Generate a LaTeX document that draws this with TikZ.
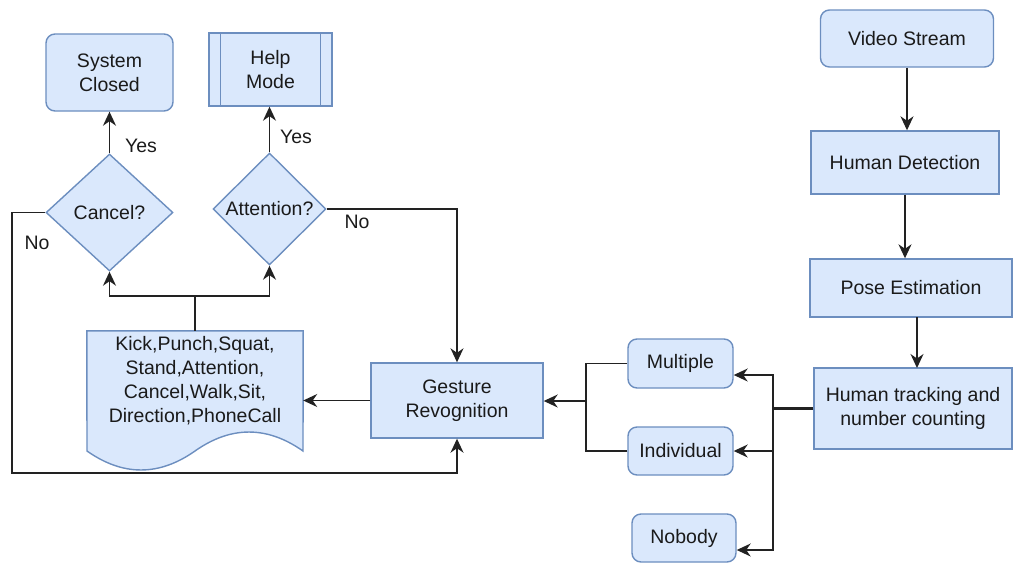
\documentclass[tikz,border=0pt]{standalone}
\usepackage{fontspec}
\setmainfont{Liberation Sans}
\usetikzlibrary{shapes.geometric,arrows.meta}
\definecolor{bfill}{HTML}{DAE8FC}
\definecolor{bline}{HTML}{6C8EBF}
\definecolor{cline}{HTML}{222222}
\definecolor{tcol}{HTML}{1A1A1A}
\tikzset{
  txt/.style={font=\fontsize{19.5}{24}\selectfont, text=tcol, align=center},
  box/.style={txt, draw=bline, fill=bfill, line width=1.4pt, inner sep=0pt},
  rbox/.style={box, rounded corners=9pt},
  dia/.style={box, diamond, aspect=1},
  conn/.style={draw=cline, line width=1.5pt, -{Stealth[length=14pt,width=13pt,inset=4.5pt]}},
  plain/.style={draw=cline, line width=1.5pt},
  lbl/.style={txt}
}
\begin{document}
\begin{tikzpicture}[x=1pt,y=-1pt]
\useasboundingbox (0,0) rectangle (1013,563);
% right column
\node[rbox, minimum width=173pt, minimum height=57pt] (vs) at (907,38.5) {Video Stream};
\node[box, minimum width=188pt, minimum height=63pt] (hd) at (905,162.5) {Human Detection};
\node[box, minimum width=202pt, minimum height=58pt] (pe) at (911,288) {Pose Estimation};
\node[box, minimum width=198pt, minimum height=81pt] (ht) at (913,408.5) {Human tracking and\\number counting};
% middle
\node[rbox, minimum width=105pt, minimum height=49pt] (mul) at (680.5,363.5) {Multiple};
\node[rbox, minimum width=105pt, minimum height=48pt] (ind) at (680.5,451) {Individual};
\node[rbox, minimum width=104pt, minimum height=48pt] (nob) at (684,538) {Nobody};
\node[box, minimum width=172pt, minimum height=75pt] (gr) at (457,400.5) {Gesture\\Revognition};
% document
\node[minimum width=216pt, minimum height=120pt, inner sep=0pt] (doc) at (195,391) {};
\draw[draw=bline, fill=bfill, line width=1.4pt]
  (doc.north west) -- (doc.north east) -- (303,451)
  .. controls (267,425.7) and (231,425.7) .. (195,451)
  .. controls (159,476.3) and (123,476.3) .. (87,451) -- cycle;
\node[txt, inner sep=0pt] (doctext) at (195,381) {Kick,Punch,Squat,\\Stand,Attention,\\Cancel,Walk,Sit,\\Direction,PhoneCall};
% left
\node[dia, minimum width=127pt, minimum height=117pt, label={[txt]center:Cancel?}] (can) at (109.5,212.5) {};
\node[dia, minimum width=113pt, minimum height=112pt, label={[txt]center:Attention?}] (att) at (269.5,209) {};
\node[rbox, minimum width=127pt, minimum height=77pt] (sc) at (109.5,72.5) {System\\Closed};
\node[box, minimum width=123pt, minimum height=73pt] (hm) at (270.5,69.5) {Help\\Mode};
\draw[draw=bline, line width=1.4pt] ([xshift=12pt]hm.north west) -- ([xshift=12pt]hm.south west);
\draw[draw=bline, line width=1.4pt] ([xshift=-12pt]hm.north east) -- ([xshift=-12pt]hm.south east);
% labels
\node[lbl] (y1) at (141,146) {Yes};
\node[lbl] (y2) at (296,137) {Yes};
\node[lbl] (n1) at (37,243) {No};
\node[lbl] (n2) at (357,222) {No};
% coordinates
\coordinate (tr) at (773,408.5);
\coordinate (jn) at (586,401);
\coordinate (hz) at (195,296);
\coordinate (lb) at (12,473);
% connectors
\draw[conn] (vs.south) -- (vs.south |- hd.north);
\draw[conn] (hd.south) -- (hd.south |- pe.north);
\draw[conn] (917,317) -- (917,368);
\draw[draw=cline, line width=2.6pt] (ht.west) -- (tr);
\draw[conn] (tr) |- ([yshift=-11.5pt]mul.east);
\draw[conn] (tr) |- (ind.east);
\draw[conn] (tr) |- ([yshift=-12pt]nob.east);
\draw[plain] (mul.west) -| (jn);
\draw[plain] (ind.west) -| (jn);
\draw[conn] (jn) -- (gr.east |- jn);
\draw[conn] (gr.west) -- (doc.east |- gr.west);
\draw[plain] (doc.north) -- (hz);
\draw[conn] (hz) -| (can.south);
\draw[conn] (hz) -| (att.south);
\draw[conn] (can.north) -- (sc.south);
\draw[conn] (att.north) -- (att.north |- hm.south);
\draw[conn] (can.west) -| (lb) -| (gr.south);
\draw[conn] (att.east) -| (gr.north);
\end{tikzpicture}
\end{document}
